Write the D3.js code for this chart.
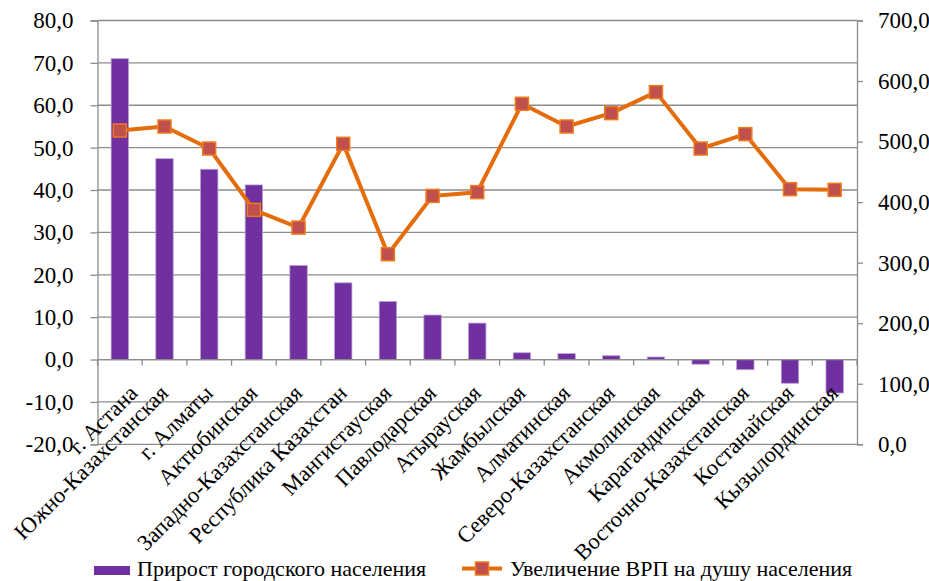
<!DOCTYPE html>
<html>
<head>
<meta charset="utf-8">
<script src="https://cdn.jsdelivr.net/npm/d3@7"></script>
<style>
  body { margin: 0; background: #fff; }
</style>
</head>
<body>
<svg id="chart" width="929" height="581"></svg>
<script>
// regions, in the order of the picture
const regions = [
  'г. Астана', 'Южно-Казахстанская', 'г. Алматы', 'Актюбинская',
  'Западно-Казахстанская', 'Республика Казахстан', 'Мангистауская',
  'Павлодарская', 'Атырауская', 'Жамбылская', 'Алматинская',
  'Северо-Казахстанская', 'Акмолинская', 'Карагандинская',
  'Восточно-Казахстанская', 'Костанайская', 'Кызылординская'
];

// urban population growth, left axis
const urbanGrowth = [71.0, 47.4, 44.9, 41.2, 22.2, 18.1, 13.7, 10.5, 8.6,
  1.6, 1.4, 0.9, 0.6, -1.1, -2.4, -5.6, -7.9];

// GRP per capita increase, right axis
const grpGrowth = [518.3, 524.9, 488.5, 387.2, 358.0, 496.3, 314.0, 410.3, 416.5,
  562.4, 524.9, 547.0, 581.7, 488.5, 512.3, 421.4, 420.3];

const leftTicks = [-20, -10, 0, 10, 20, 30, 40, 50, 60, 70, 80];
const rightTicks = [0, 100, 200, 300, 400, 500, 600, 700];

const seriesNames = ['Прирост городского населения', 'Увеличение ВРП на душу населения'];

const barColor = '#7030a0',
      lineColor = '#e46c0a',
      markerColor = '#c0504d',
      gridColor = '#8c8c8c',
      fontFamily = '"Liberation Serif", "Times New Roman", serif';

let svg = d3.select('#chart');

let plot = {left: 97.5, right: 857, top: 20.5, bottom: 444.3};

let x = d3.scaleBand()
  .domain(regions)
  .range([plot.left, plot.right]);

let yLeft = d3.scaleLinear()
  .domain([-20, 80])
  .range([plot.bottom, plot.top]);

let yRight = d3.scaleLinear()
  .domain([0, 700])
  .range([plot.bottom, plot.top]);

const fmt = (v) => v.toFixed(1).replace('.', ',');

// gridlines follow the left axis
svg.append('g')
  .selectAll('line')
  .data(leftTicks)
  .enter().append('line')
    .attr('x1', plot.left)
    .attr('x2', plot.right)
    .attr('y1', (d) => yLeft(d))
    .attr('y2', (d) => yLeft(d))
    .attr('stroke', gridColor)
    .attr('stroke-width', 1.3);

// left axis
let leftAxis = svg.append('g')
  .attr('transform', `translate(${plot.left},0)`)
  .call(d3.axisLeft(yLeft).tickValues(leftTicks).tickFormat(fmt).tickSize(7).tickPadding(17));

// right axis
let rightAxis = svg.append('g')
  .attr('transform', `translate(${plot.right},0)`)
  .call(d3.axisRight(yRight).tickValues(rightTicks).tickFormat(fmt).tickSize(6).tickPadding(15));

[leftAxis, rightAxis].forEach((a) => {
  a.select('.domain').attr('stroke', gridColor).attr('stroke-width', 1.3);
  a.selectAll('.tick line').attr('stroke', gridColor).attr('stroke-width', 1.3);
  a.selectAll('.tick text')
    .attr('fill', '#000')
    .style('font-family', fontFamily)
    .style('font-size', '23px');
});

// bars
let barW = x.bandwidth() * 0.39;

svg.append('g')
  .selectAll('rect')
  .data(regions)
  .enter().append('rect')
    .attr('x', (d) => x(d) + x.bandwidth() / 2 - barW / 2)
    .attr('y', (d, i) => yLeft(Math.max(0, urbanGrowth[i])))
    .attr('width', barW)
    .attr('height', (d, i) => Math.abs(yLeft(urbanGrowth[i]) - yLeft(0)))
    .attr('fill', barColor)
    .attr('stroke', '#b9a4d2')
    .attr('stroke-width', 0.8);

// category axis sits at zero of the left scale
let catAxis = svg.append('g')
  .attr('transform', `translate(0,${yLeft(0)})`);

catAxis.append('line')
  .attr('x1', plot.left)
  .attr('x2', plot.right)
  .attr('stroke', gridColor)
  .attr('stroke-width', 1.3);

catAxis.selectAll('.tick')
  .data(regions.concat(['']))
  .enter().append('line')
    .attr('class', 'tick')
    .attr('x1', (d, i) => plot.left + i * x.bandwidth())
    .attr('x2', (d, i) => plot.left + i * x.bandwidth())
    .attr('y1', 0)
    .attr('y2', 6)
    .attr('stroke', gridColor)
    .attr('stroke-width', 1.3);

catAxis.selectAll('text')
  .data(regions)
  .enter().append('text')
    .text((d) => d)
    .attr('text-anchor', 'end')
    .style('font-family', fontFamily)
    .style('font-size', '22.5px')
    .attr('transform', (d, i) => {
      // the first label is pushed right, clear of the "-20,0" tick
      let cx = x(d) + x.bandwidth() / 2 + (i === 0 ? 14 : 0);
      return `translate(${cx + 5},${35})rotate(-45)`;
    });

// line series
let line = d3.line()
  .x((d, i) => x(regions[i]) + x.bandwidth() / 2)
  .y((d) => yRight(d));

svg.append('path')
  .datum(grpGrowth)
  .attr('d', line)
  .attr('fill', 'none')
  .attr('stroke', lineColor)
  .attr('stroke-width', 4)
  .attr('stroke-linejoin', 'round');

const mk = 13;

svg.append('g')
  .selectAll('rect')
  .data(grpGrowth)
  .enter().append('rect')
    .attr('x', (d, i) => x(regions[i]) + x.bandwidth() / 2 - mk / 2)
    .attr('y', (d) => yRight(d) - mk / 2)
    .attr('width', mk)
    .attr('height', mk)
    .attr('fill', markerColor)
    .attr('stroke', '#f07a1a')
    .attr('stroke-width', 1.5);

// legend
let legend = svg.append('g');

legend.append('rect')
  .attr('x', 94)
  .attr('y', 566)
  .attr('width', 36)
  .attr('height', 9)
  .attr('fill', barColor);

legend.append('text')
  .text(seriesNames[0])
  .attr('x', 137)
  .attr('y', 575.5)
  .style('font-family', fontFamily)
  .style('font-size', '22px');

legend.append('line')
  .attr('x1', 462)
  .attr('x2', 502)
  .attr('y1', 568.5)
  .attr('y2', 568.5)
  .attr('stroke', lineColor)
  .attr('stroke-width', 4);

legend.append('rect')
  .attr('x', 482 - mk / 2)
  .attr('y', 568.5 - mk / 2)
  .attr('width', mk)
  .attr('height', mk)
  .attr('fill', markerColor)
  .attr('stroke', '#f07a1a')
  .attr('stroke-width', 1.5);

legend.append('text')
  .text(seriesNames[1])
  .attr('x', 510)
  .attr('y', 575.5)
  .style('font-family', fontFamily)
  .style('font-size', '22px');
</script>
</body>
</html>
